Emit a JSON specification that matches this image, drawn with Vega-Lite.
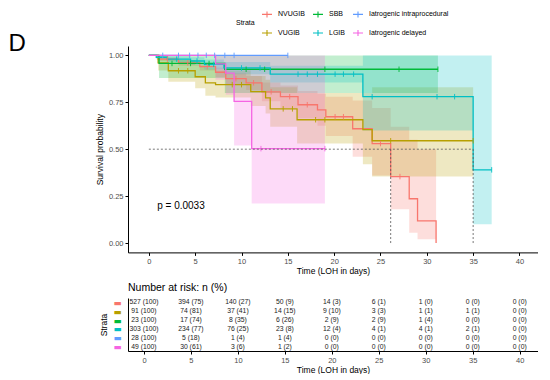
{
  "$schema": "https://vega.github.io/schema/vega-lite/v6.json",
  "padding": {"left": 8, "top": 8, "right": 0, "bottom": 0},
  "title": {"text": "D", "anchor": "start", "frame": "bounds", "fontSize": 24, "fontWeight": "normal", "color": "black", "dx": -87, "dy": 67, "offset": 0, "baseline": "alphabetic"},
  "config": {
    "font": "Liberation Sans",
    "view": {"stroke": null},
    "axis": {"grid": false, "domainColor": "black", "tickColor": "black", "labelColor": "#4d4d4d", "labelFontSize": 7.5, "titleFontSize": 8.5, "titleFontWeight": "normal", "titleColor": "black", "tickSize": 3, "labelPadding": 2}
  },
  "datasets": {
    "surv": [
      {"s": "NVUGIB", "t": 0, "p": 1, "lo": 1, "hi": 1},
      {"s": "NVUGIB", "t": 1.0, "p": 0.98, "lo": 0.97, "hi": 0.99},
      {"s": "NVUGIB", "t": 3.2, "p": 0.96, "lo": 0.945, "hi": 0.975},
      {"s": "NVUGIB", "t": 5.5, "p": 0.94, "lo": 0.92, "hi": 0.96},
      {"s": "NVUGIB", "t": 7.2, "p": 0.91, "lo": 0.885, "hi": 0.935},
      {"s": "NVUGIB", "t": 8.3, "p": 0.876, "lo": 0.845, "hi": 0.905},
      {"s": "NVUGIB", "t": 10.5, "p": 0.854, "lo": 0.815, "hi": 0.89},
      {"s": "NVUGIB", "t": 12.2, "p": 0.806, "lo": 0.755, "hi": 0.855},
      {"s": "NVUGIB", "t": 14.2, "p": 0.78, "lo": 0.72, "hi": 0.84},
      {"s": "NVUGIB", "t": 16.1, "p": 0.737, "lo": 0.665, "hi": 0.81},
      {"s": "NVUGIB", "t": 18.2, "p": 0.71, "lo": 0.625, "hi": 0.795},
      {"s": "NVUGIB", "t": 19.1, "p": 0.673, "lo": 0.57, "hi": 0.78},
      {"s": "NVUGIB", "t": 22, "p": 0.609, "lo": 0.46, "hi": 0.76},
      {"s": "NVUGIB", "t": 24.1, "p": 0.53, "lo": 0.36, "hi": 0.72},
      {"s": "NVUGIB", "t": 26.1, "p": 0.354, "lo": 0.18, "hi": 0.62},
      {"s": "NVUGIB", "t": 28.1, "p": 0.236, "lo": 0.055, "hi": 0.55},
      {"s": "NVUGIB", "t": 29, "p": 0.118, "lo": 0.02, "hi": 0.5},
      {"s": "NVUGIB", "t": 31, "p": 0, "lo": 0.02, "hi": 0.5},
      {"s": "VUGIB", "t": 0, "p": 1, "lo": 1, "hi": 1},
      {"s": "VUGIB", "t": 1.0, "p": 0.96, "lo": 0.92, "hi": 1},
      {"s": "VUGIB", "t": 2.1, "p": 0.918, "lo": 0.86, "hi": 0.975},
      {"s": "VUGIB", "t": 5, "p": 0.886, "lo": 0.825, "hi": 0.95},
      {"s": "VUGIB", "t": 6.1, "p": 0.854, "lo": 0.785, "hi": 0.93},
      {"s": "VUGIB", "t": 7.2, "p": 0.844, "lo": 0.775, "hi": 0.92},
      {"s": "VUGIB", "t": 11, "p": 0.807, "lo": 0.73, "hi": 0.89},
      {"s": "VUGIB", "t": 12.6, "p": 0.774, "lo": 0.69, "hi": 0.87},
      {"s": "VUGIB", "t": 13.1, "p": 0.715, "lo": 0.62, "hi": 0.83},
      {"s": "VUGIB", "t": 16, "p": 0.657, "lo": 0.53, "hi": 0.8},
      {"s": "VUGIB", "t": 23.1, "p": 0.604, "lo": 0.42, "hi": 0.8},
      {"s": "VUGIB", "t": 24.1, "p": 0.545, "lo": 0.354, "hi": 0.83},
      {"s": "VUGIB", "t": 35, "p": 0.545, "lo": 0.354, "hi": 0.83},
      {"s": "SBB", "t": 0, "p": 1, "lo": 1, "hi": 1},
      {"s": "SBB", "t": 1.1, "p": 0.957, "lo": 0.88, "hi": 1},
      {"s": "SBB", "t": 8.2, "p": 0.926, "lo": 0.8, "hi": 1},
      {"s": "SBB", "t": 31.2, "p": 0.926, "lo": 0.8, "hi": 1},
      {"s": "LGIB", "t": 0, "p": 1, "lo": 1, "hi": 1},
      {"s": "LGIB", "t": 0.8, "p": 0.99, "lo": 0.98, "hi": 1},
      {"s": "LGIB", "t": 2, "p": 0.98, "lo": 0.965, "hi": 0.995},
      {"s": "LGIB", "t": 4.5, "p": 0.97, "lo": 0.95, "hi": 0.99},
      {"s": "LGIB", "t": 6, "p": 0.952, "lo": 0.925, "hi": 0.978},
      {"s": "LGIB", "t": 8.1, "p": 0.933, "lo": 0.9, "hi": 0.965},
      {"s": "LGIB", "t": 13.1, "p": 0.9, "lo": 0.855, "hi": 0.945},
      {"s": "LGIB", "t": 23.1, "p": 0.78, "lo": 0.6, "hi": 1},
      {"s": "LGIB", "t": 35, "p": 0.39, "lo": 0.1, "hi": 1},
      {"s": "LGIB", "t": 37, "p": 0.39, "lo": 0.1, "hi": 1},
      {"s": "Iatrogenic intraprocedural", "t": 0, "p": 1, "lo": 1, "hi": 1},
      {"s": "Iatrogenic intraprocedural", "t": 15, "p": 1, "lo": 1, "hi": 1},
      {"s": "Iatrogenic delayed", "t": 0, "p": 1, "lo": 1, "hi": 1},
      {"s": "Iatrogenic delayed", "t": 7.2, "p": 0.955, "lo": 0.87, "hi": 1},
      {"s": "Iatrogenic delayed", "t": 8.3, "p": 0.905, "lo": 0.79, "hi": 1},
      {"s": "Iatrogenic delayed", "t": 9.2, "p": 0.755, "lo": 0.52, "hi": 1},
      {"s": "Iatrogenic delayed", "t": 11.1, "p": 0.503, "lo": 0.21, "hi": 1},
      {"s": "Iatrogenic delayed", "t": 19, "p": 0.503, "lo": 0.21, "hi": 1}
    ],
    "cens": [
      {"s": "NVUGIB", "t": 2, "p": 0.98}, {"s": "NVUGIB", "t": 4.2, "p": 0.96}, {"s": "NVUGIB", "t": 6.3, "p": 0.94},
      {"s": "NVUGIB", "t": 9.4, "p": 0.876}, {"s": "NVUGIB", "t": 11.3, "p": 0.854}, {"s": "NVUGIB", "t": 13.2, "p": 0.806},
      {"s": "NVUGIB", "t": 15.2, "p": 0.78}, {"s": "NVUGIB", "t": 17.1, "p": 0.737}, {"s": "NVUGIB", "t": 20.1, "p": 0.673},
      {"s": "NVUGIB", "t": 21, "p": 0.673}, {"s": "NVUGIB", "t": 25, "p": 0.53}, {"s": "NVUGIB", "t": 27.1, "p": 0.354},
      {"s": "VUGIB", "t": 3.2, "p": 0.918}, {"s": "VUGIB", "t": 4.2, "p": 0.918}, {"s": "VUGIB", "t": 9, "p": 0.844},
      {"s": "VUGIB", "t": 10, "p": 0.844}, {"s": "VUGIB", "t": 14.5, "p": 0.715}, {"s": "VUGIB", "t": 15.5, "p": 0.715},
      {"s": "VUGIB", "t": 18, "p": 0.657}, {"s": "VUGIB", "t": 19, "p": 0.657}, {"s": "VUGIB", "t": 26.1, "p": 0.545},
      {"s": "VUGIB", "t": 35, "p": 0.545},
      {"s": "SBB", "t": 2.5, "p": 0.957}, {"s": "SBB", "t": 4.5, "p": 0.957}, {"s": "SBB", "t": 6.5, "p": 0.957},
      {"s": "SBB", "t": 10.5, "p": 0.926}, {"s": "SBB", "t": 12.5, "p": 0.926}, {"s": "SBB", "t": 19, "p": 0.926},
      {"s": "SBB", "t": 27, "p": 0.926}, {"s": "SBB", "t": 31.2, "p": 0.926},
      {"s": "LGIB", "t": 3, "p": 0.98}, {"s": "LGIB", "t": 5.2, "p": 0.97}, {"s": "LGIB", "t": 7, "p": 0.952},
      {"s": "LGIB", "t": 10, "p": 0.933}, {"s": "LGIB", "t": 12, "p": 0.933}, {"s": "LGIB", "t": 16.1, "p": 0.9},
      {"s": "LGIB", "t": 17.1, "p": 0.9}, {"s": "LGIB", "t": 18.2, "p": 0.9}, {"s": "LGIB", "t": 20.1, "p": 0.9},
      {"s": "LGIB", "t": 21, "p": 0.9}, {"s": "LGIB", "t": 22.1, "p": 0.9}, {"s": "LGIB", "t": 24.1, "p": 0.78},
      {"s": "LGIB", "t": 31.1, "p": 0.78}, {"s": "LGIB", "t": 33, "p": 0.78}, {"s": "LGIB", "t": 37, "p": 0.39},
      {"s": "Iatrogenic intraprocedural", "t": 1.5, "p": 1}, {"s": "Iatrogenic intraprocedural", "t": 3.2, "p": 1},
      {"s": "Iatrogenic intraprocedural", "t": 4.4, "p": 1}, {"s": "Iatrogenic intraprocedural", "t": 5.3, "p": 1},
      {"s": "Iatrogenic intraprocedural", "t": 6.2, "p": 1}, {"s": "Iatrogenic intraprocedural", "t": 7.1, "p": 1},
      {"s": "Iatrogenic intraprocedural", "t": 8.2, "p": 1}, {"s": "Iatrogenic intraprocedural", "t": 9.2, "p": 1},
      {"s": "Iatrogenic intraprocedural", "t": 15, "p": 1},
      {"s": "Iatrogenic delayed", "t": 12.1, "p": 0.503}, {"s": "Iatrogenic delayed", "t": 19, "p": 0.503}
    ],
    "median": [
      {"x": 0, "x2": 35, "y": 0.5, "y2": 0.5},
      {"x": 26.1, "x2": 26.1, "y": 0, "y2": 0.5},
      {"x": 35, "x2": 35, "y": 0, "y2": 0.5}
    ],
    "risk": [
      {"s": "NVUGIB", "t": 0, "n": "527 (100)"}, {"s": "NVUGIB", "t": 5, "n": "394 (75)"}, {"s": "NVUGIB", "t": 10, "n": "140 (27)"},
      {"s": "NVUGIB", "t": 15, "n": "50 (9)"}, {"s": "NVUGIB", "t": 20, "n": "14 (3)"}, {"s": "NVUGIB", "t": 25, "n": "6 (1)"},
      {"s": "NVUGIB", "t": 30, "n": "1 (0)"}, {"s": "NVUGIB", "t": 35, "n": "0 (0)"}, {"s": "NVUGIB", "t": 40, "n": "0 (0)"},
      {"s": "VUGIB", "t": 0, "n": "91 (100)"}, {"s": "VUGIB", "t": 5, "n": "74 (81)"}, {"s": "VUGIB", "t": 10, "n": "37 (41)"},
      {"s": "VUGIB", "t": 15, "n": "14 (15)"}, {"s": "VUGIB", "t": 20, "n": "9 (10)"}, {"s": "VUGIB", "t": 25, "n": "3 (3)"},
      {"s": "VUGIB", "t": 30, "n": "1 (1)"}, {"s": "VUGIB", "t": 35, "n": "1 (1)"}, {"s": "VUGIB", "t": 40, "n": "0 (0)"},
      {"s": "SBB", "t": 0, "n": "23 (100)"}, {"s": "SBB", "t": 5, "n": "17 (74)"}, {"s": "SBB", "t": 10, "n": "8 (35)"},
      {"s": "SBB", "t": 15, "n": "6 (26)"}, {"s": "SBB", "t": 20, "n": "2 (9)"}, {"s": "SBB", "t": 25, "n": "2 (9)"},
      {"s": "SBB", "t": 30, "n": "1 (4)"}, {"s": "SBB", "t": 35, "n": "0 (0)"}, {"s": "SBB", "t": 40, "n": "0 (0)"},
      {"s": "LGIB", "t": 0, "n": "303 (100)"}, {"s": "LGIB", "t": 5, "n": "234 (77)"}, {"s": "LGIB", "t": 10, "n": "76 (25)"},
      {"s": "LGIB", "t": 15, "n": "23 (8)"}, {"s": "LGIB", "t": 20, "n": "12 (4)"}, {"s": "LGIB", "t": 25, "n": "4 (1)"},
      {"s": "LGIB", "t": 30, "n": "4 (1)"}, {"s": "LGIB", "t": 35, "n": "2 (1)"}, {"s": "LGIB", "t": 40, "n": "0 (0)"},
      {"s": "Iatrogenic intraprocedural", "t": 0, "n": "28 (100)"}, {"s": "Iatrogenic intraprocedural", "t": 5, "n": "5 (18)"},
      {"s": "Iatrogenic intraprocedural", "t": 10, "n": "1 (4)"}, {"s": "Iatrogenic intraprocedural", "t": 15, "n": "1 (4)"},
      {"s": "Iatrogenic intraprocedural", "t": 20, "n": "0 (0)"}, {"s": "Iatrogenic intraprocedural", "t": 25, "n": "0 (0)"},
      {"s": "Iatrogenic intraprocedural", "t": 30, "n": "0 (0)"}, {"s": "Iatrogenic intraprocedural", "t": 35, "n": "0 (0)"},
      {"s": "Iatrogenic intraprocedural", "t": 40, "n": "0 (0)"},
      {"s": "Iatrogenic delayed", "t": 0, "n": "49 (100)"}, {"s": "Iatrogenic delayed", "t": 5, "n": "30 (61)"},
      {"s": "Iatrogenic delayed", "t": 10, "n": "3 (6)"}, {"s": "Iatrogenic delayed", "t": 15, "n": "1 (2)"},
      {"s": "Iatrogenic delayed", "t": 20, "n": "0 (0)"}, {"s": "Iatrogenic delayed", "t": 25, "n": "0 (0)"},
      {"s": "Iatrogenic delayed", "t": 30, "n": "0 (0)"}, {"s": "Iatrogenic delayed", "t": 35, "n": "0 (0)"},
      {"s": "Iatrogenic delayed", "t": 40, "n": "0 (0)"}
    ]
  },
  "spacing": 7,
  "resolve": {"scale": {"x": "independent", "y": "independent"}, "legend": {"color": "independent", "fill": "independent"}},
  "vconcat": [
    {
      "width": 410,
      "height": 206.4,
      "layer": [
        {
          "data": {"name": "surv"},
          "mark": {"type": "area", "interpolate": "step-after", "opacity": 0.24},
          "encoding": {
            "x": {"field": "t", "type": "quantitative", "scale": {"domain": [-2.25, 42], "nice": false, "zero": false},
                  "axis": {"values": [0, 5, 10, 15, 20, 25, 30, 35, 40], "title": "Time (LOH in days)", "titlePadding": 2}},
            "y": {"field": "lo", "type": "quantitative", "scale": {"domain": [-0.05, 1.05], "nice": false, "zero": false},
                  "axis": {"values": [0, 0.25, 0.5, 0.75, 1], "format": ".2f", "title": "Survival probability", "titlePadding": 4}},
            "y2": {"field": "hi"},
            "fill": {"field": "s", "type": "nominal", "legend": null,
                     "scale": {"domain": ["NVUGIB", "VUGIB", "SBB", "LGIB", "Iatrogenic intraprocedural", "Iatrogenic delayed"],
                               "range": ["#F8766D", "#B79F00", "#00BA38", "#00BFC4", "#619CFF", "#F564E3"]}}
          }
        },
        {
          "data": {"name": "surv"},
          "mark": {"type": "line", "interpolate": "step-after", "strokeWidth": 1.3},
          "encoding": {
            "x": {"field": "t", "type": "quantitative"},
            "y": {"field": "p", "type": "quantitative"},
            "color": {"field": "s", "type": "nominal",
                      "scale": {"domain": ["NVUGIB", "SBB", "Iatrogenic intraprocedural", "VUGIB", "LGIB", "Iatrogenic delayed"],
                                "range": ["#F8766D", "#00BA38", "#619CFF", "#B79F00", "#00BFC4", "#F564E3"]},
                      "legend": {"orient": "none", "legendX": 108, "legendY": -38, "direction": "horizontal", "columns": 3,
                                 "title": "Strata", "titleOrient": "left", "titleAnchor": "middle", "titleFontSize": 7, "titleFontWeight": "normal",
                                 "titlePadding": 6, "titleColor": "black",
                                 "labelFontSize": 7, "labelOffset": 5, "labelColor": "black",
                                 "symbolType": "M-1,0H1M0,-0.6V0.6", "symbolSize": 100, "symbolStrokeWidth": 1.1,
                                 "rowPadding": 7, "columnPadding": 5, "labelLimit": 200}}
          }
        },
        {
          "data": {"name": "cens"},
          "mark": {"type": "point", "shape": "M0,-1L0,1", "size": 30, "strokeWidth": 0.9, "filled": false, "opacity": 1},
          "encoding": {
            "x": {"field": "t", "type": "quantitative"},
            "y": {"field": "p", "type": "quantitative"},
            "color": {"field": "s", "type": "nominal"}
          }
        },
        {
          "data": {"name": "median"},
          "mark": {"type": "rule", "strokeDash": [2, 2], "color": "#555555", "strokeWidth": 0.8},
          "encoding": {
            "x": {"field": "x", "type": "quantitative"},
            "x2": {"field": "x2"},
            "y": {"field": "y", "type": "quantitative"},
            "y2": {"field": "y2"}
          }
        },
        {
          "data": {"values": [{"label": "p = 0.0033"}]},
          "mark": {"type": "text", "align": "left", "baseline": "middle", "fontSize": 10, "color": "black"},
          "encoding": {
            "x": {"datum": 0.9},
            "y": {"datum": 0.195},
            "text": {"field": "label"}
          }
        }
      ]
    },
    {
      "width": 410,
      "height": 53,
      "title": {"text": "Number at risk: n (%)", "anchor": "start", "frame": "group", "fontSize": 10.5, "fontWeight": "normal", "offset": 4.5, "color": "black"},
      "data": {"name": "risk"},
      "mark": {"type": "text", "fontSize": 6.8, "color": "#222222"},
      "encoding": {
        "x": {"field": "t", "type": "quantitative", "scale": {"domain": [-1.7, 41.95], "nice": false, "zero": false},
              "axis": {"values": [0, 5, 10, 15, 20, 25, 30, 35, 40], "title": "Time (LOH in days)", "titlePadding": 2}},
        "y": {"field": "s", "type": "nominal",
              "sort": ["NVUGIB", "VUGIB", "SBB", "LGIB", "Iatrogenic intraprocedural", "Iatrogenic delayed"],
              "axis": {"title": "Strata", "labelExpr": "'▬'", "ticks": false, "labelFont": "DejaVu Sans", "labelFontSize": 8.5,
                       "labelPadding": 7, "titlePadding": 4, "labelBaseline": "middle",
                       "labelColor": {"condition": [
                         {"test": "datum.value === 'NVUGIB'", "value": "#F8766D"},
                         {"test": "datum.value === 'VUGIB'", "value": "#B79F00"},
                         {"test": "datum.value === 'SBB'", "value": "#00BA38"},
                         {"test": "datum.value === 'LGIB'", "value": "#00BFC4"},
                         {"test": "datum.value === 'Iatrogenic intraprocedural'", "value": "#619CFF"}],
                         "value": "#F564E3"}}},
        "text": {"field": "n"}
      }
    }
  ]
}
